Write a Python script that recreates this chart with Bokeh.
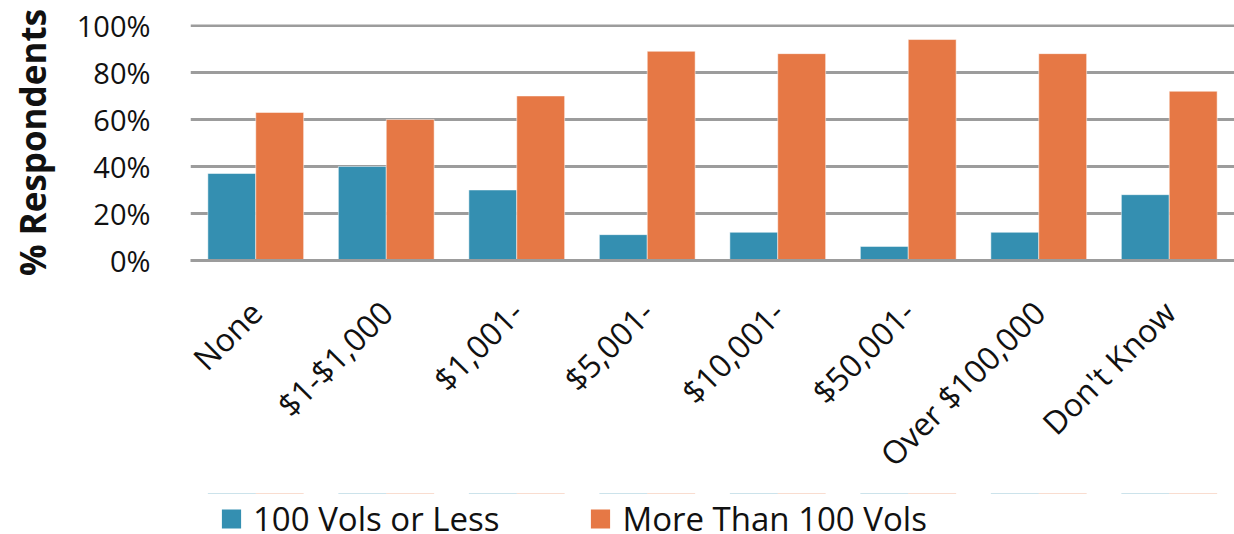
import math

from bokeh.plotting import figure
from bokeh.layouts import column
from bokeh.models import (ColumnDataSource, FactorRange, Range1d, FixedTicker,
                          PrintfTickFormatter, Legend, LegendItem)
from bokeh.transform import dodge
from bokeh.embed import file_html
from bokeh.resources import INLINE

# Donation bands and share of respondents (%) for the two organisation sizes
categories = ["None", "$1-$1,000", "$1,001-", "$5,001-", "$10,001-",
              "$50,001-", "Over $100,000", "Don't Know"]
vols_100_or_less = [37, 40, 30, 11, 12, 6, 12, 28]
more_than_100_vols = [63, 60, 70, 89, 88, 94, 88, 72]
y_ticks = [0, 20, 40, 60, 80, 100]
series_names = ["100 Vols or Less", "More Than 100 Vols"]

TEAL = "#348FB1"
ORANGE = "#E67845"
GRID = "#9C9C9C"
FONT = "Open Sans"
BAR_W = 0.367

source = ColumnDataSource(data=dict(
    band=categories,
    small=vols_100_or_less,
    large=more_than_100_vols,
))


def add_bars(fig, edge_alpha=0.5):
    """Draw the paired bars of both series on fig; returns the two renderers."""
    r1 = fig.vbar(x=dodge("band", -BAR_W / 2, range=fig.x_range), top="small",
                  width=BAR_W, source=source, fill_color=TEAL,
                  line_color="white", line_alpha=edge_alpha, line_width=1)
    r2 = fig.vbar(x=dodge("band", BAR_W / 2, range=fig.x_range), top="large",
                  width=BAR_W, source=source, fill_color=ORANGE,
                  line_color="white", line_alpha=edge_alpha, line_width=1)
    return r1, r2


# ---- main chart -------------------------------------------------------------
p = figure(
    width=1234, height=484,
    frame_height=236,
    x_range=FactorRange(factors=categories, range_padding=0),
    y_range=Range1d(0, 100.4),
    output_backend="svg", toolbar_location=None,
    min_border_left=190, min_border_right=0,
    min_border_top=24, min_border_bottom=0,
)
p.outline_line_color = None
p.background_fill_color = "white"
p.border_fill_color = "white"

add_bars(p)

# horizontal gridlines only
p.xgrid.grid_line_color = None
p.ygrid.ticker = FixedTicker(ticks=y_ticks)
p.ygrid.grid_line_color = GRID
p.ygrid.grid_line_width = 3

# y axis: percent labels, no axis line or ticks
p.yaxis.ticker = FixedTicker(ticks=y_ticks)
p.yaxis.formatter = PrintfTickFormatter(format="%d%%")
p.yaxis.axis_line_color = None
p.yaxis.major_tick_line_color = None
p.yaxis.minor_tick_line_color = None
p.yaxis.major_label_text_font = FONT
p.yaxis.major_label_text_font_size = "29px"
p.yaxis.major_label_text_color = "#111111"
p.yaxis.major_label_standoff = 34
p.yaxis.axis_label = "% Respondents"
p.yaxis.axis_label_text_font = FONT
p.yaxis.axis_label_text_font_style = "bold"
p.yaxis.axis_label_text_font_size = "35px"
p.yaxis.axis_label_text_color = "#111111"
p.yaxis.axis_label_standoff = 18

# x axis: rotated band labels
p.xaxis.axis_line_color = GRID
p.xaxis.axis_line_width = 3
p.xaxis.major_tick_line_color = None
p.xaxis.minor_tick_line_color = None
p.xaxis.major_label_orientation = math.pi / 4
p.xaxis.major_label_text_font = FONT
p.xaxis.major_label_text_font_size = "32px"
p.xaxis.major_label_text_color = "#111111"
p.xaxis.major_label_standoff = 40

# ---- legend strip -----------------------------------------------------------
# Same series drawn on a strip whose y range sits below zero, so only the
# legend entries show.
lf = figure(
    width=1234, height=50,
    x_range=FactorRange(factors=categories, range_padding=0),
    y_range=Range1d(-2, -1),
    x_axis_type=None, y_axis_type=None,
    output_backend="svg", toolbar_location=None,
    min_border=0,
)
lf.outline_line_color = None
lf.grid.grid_line_color = None
lf.background_fill_color = "white"
lf.border_fill_color = "white"

l_small, l_large = add_bars(lf, edge_alpha=0)

legend = Legend(
    items=[LegendItem(label=series_names[0], renderers=[l_small]),
           LegendItem(label=series_names[1], renderers=[l_large])],
    orientation="horizontal",
    location="left",
    margin=29, padding=0,
    glyph_width=24, glyph_height=24,
    label_standoff=10, spacing=89,
    border_line_color=None, background_fill_alpha=0,
    label_text_font=FONT, label_text_font_size="33px",
    label_text_color="#111111",
)
lf.add_layout(legend)

layout = column(p, lf, spacing=0)

open("out.html", "w").write(file_html(layout, INLINE))
